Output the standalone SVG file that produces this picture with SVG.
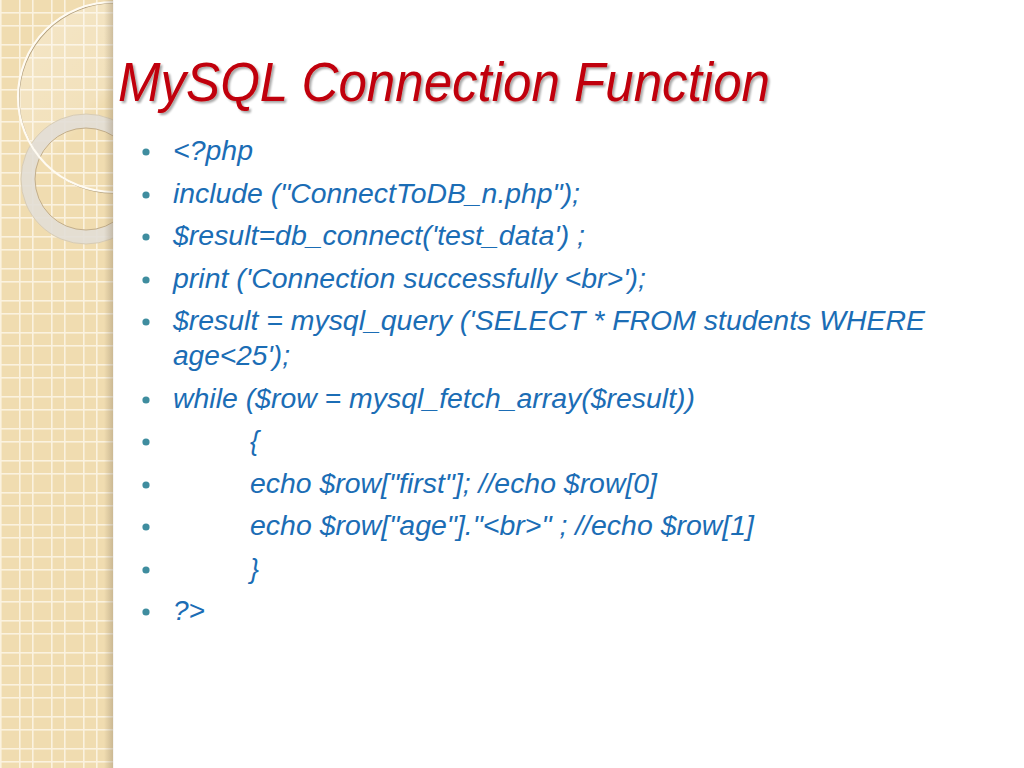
<svg xmlns="http://www.w3.org/2000/svg" width="1024" height="768" viewBox="0 0 1024 768">
  <defs>
    <pattern id="grid" x="0" y="0" width="32" height="32" patternUnits="userSpaceOnUse">
      <rect width="32" height="32" fill="#f0dcb0"/>
      <rect x="0" y="0" width="1.6" height="32" fill="#fbf2df"/>
      <rect x="19" y="0" width="1.6" height="32" fill="#fbf2df"/>
      <rect x="0" y="12" width="32" height="1.6" fill="#fbf2df"/>
      <rect x="0" y="25" width="32" height="1.6" fill="#fbf2df"/>
    </pattern>
    <linearGradient id="shadow" x1="0" y1="0" x2="1" y2="0">
      <stop offset="0" stop-color="#8a7a60" stop-opacity="0"/>
      <stop offset="0.55" stop-color="#8a7a60" stop-opacity="0.35"/>
      <stop offset="0.6" stop-color="#ffffff" stop-opacity="0.6"/>
      <stop offset="1" stop-color="#ffffff" stop-opacity="0"/>
    </linearGradient>
    <linearGradient id="glow" x1="0" y1="0" x2="1" y2="1">
      <stop offset="0" stop-color="#ffffff" stop-opacity="0.3"/>
      <stop offset="0.45" stop-color="#ffffff" stop-opacity="0.15"/>
      <stop offset="0.5" stop-color="#ffffff" stop-opacity="0"/>
    </linearGradient>
    <clipPath id="stripClip">
      <rect x="0" y="0" width="113" height="768"/>
    </clipPath>
    <filter id="tshadow" x="-5%" y="-20%" width="110%" height="140%">
      <feGaussianBlur in="SourceAlpha" stdDeviation="1.2"/>
      <feOffset dx="2" dy="2" result="b"/>
      <feComponentTransfer><feFuncA type="linear" slope="0.35"/></feComponentTransfer>
      <feMerge><feMergeNode/><feMergeNode in="SourceGraphic"/></feMerge>
    </filter>
  </defs>
  <style>
    .body { font-family: "Liberation Sans", Arial, sans-serif; font-style: italic; font-size: 27px; fill: #1b6db5; }
    .title { font-family: "Liberation Sans", Arial, sans-serif; font-style: italic; font-size: 55px; fill: #c00008; }
    .dot { fill: #3f8d9f; }
  </style>

  <rect width="1024" height="768" fill="#ffffff"/>

  <g id="strip">
    <rect x="0" y="0" width="113" height="768" fill="url(#grid)"/>
    <g clip-path="url(#stripClip)">
      <circle cx="113" cy="97" r="95" fill="url(#glow)"/>
      <circle cx="86" cy="179" r="58" fill="none" stroke="#e2ded6" stroke-width="14" stroke-opacity="0.9"/>
      <circle cx="86" cy="179" r="51" fill="none" stroke="#c2ae8c" stroke-width="1"/>
      <circle cx="86" cy="179" r="65" fill="none" stroke="#d8ccb4" stroke-width="1"/>
      <circle cx="114" cy="98" r="95" fill="none" stroke="#b3a07e" stroke-width="1.2"/>
      <circle cx="113" cy="97" r="95" fill="none" stroke="#fffbf2" stroke-width="2.2"/>
    </g>
    <rect x="104" y="0" width="16" height="768" fill="url(#shadow)"/>
  </g>

  <g id="title">
    <text class="title" x="118" y="101" textLength="652" lengthAdjust="spacingAndGlyphs" filter="url(#tshadow)">MySQL Connection Function</text>
  </g>

  <g id="bullets">
    <circle class="dot" cx="146" cy="152" r="3.6"/>
    <circle class="dot" cx="146" cy="195" r="3.6"/>
    <circle class="dot" cx="146" cy="237" r="3.6"/>
    <circle class="dot" cx="146" cy="280" r="3.6"/>
    <circle class="dot" cx="146" cy="322" r="3.6"/>
    <circle class="dot" cx="146" cy="400" r="3.6"/>
    <circle class="dot" cx="146" cy="442" r="3.6"/>
    <circle class="dot" cx="146" cy="485" r="3.6"/>
    <circle class="dot" cx="146" cy="527" r="3.6"/>
    <circle class="dot" cx="146" cy="570" r="3.6"/>
    <circle class="dot" cx="146" cy="612" r="3.6"/>
  </g>

  <g id="code">
    <text class="body" x="173" y="160" textLength="80" lengthAdjust="spacingAndGlyphs">&lt;?php</text>
    <text class="body" x="173" y="203" textLength="407" lengthAdjust="spacingAndGlyphs">include ("ConnectToDB_n.php");</text>
    <text class="body" x="173" y="245" textLength="412" lengthAdjust="spacingAndGlyphs">$result=db_connect('test_data') ;</text>
    <text class="body" x="173" y="288" textLength="473" lengthAdjust="spacingAndGlyphs">print ('Connection successfully &lt;br&gt;');</text>
    <text class="body" x="173" y="330" textLength="752" lengthAdjust="spacingAndGlyphs">$result = mysql_query ('SELECT * FROM students WHERE</text>
    <text class="body" x="173" y="365" textLength="117" lengthAdjust="spacingAndGlyphs">age&lt;25');</text>
    <text class="body" x="173" y="408" textLength="522" lengthAdjust="spacingAndGlyphs">while ($row = mysql_fetch_array($result))</text>
    <text class="body" x="250" y="450">{</text>
    <text class="body" x="250" y="493" textLength="407" lengthAdjust="spacingAndGlyphs">echo $row["first"]; //echo $row[0]</text>
    <text class="body" x="250" y="535" textLength="504" lengthAdjust="spacingAndGlyphs">echo $row["age"]."&lt;br&gt;" ; //echo $row[1]</text>
    <text class="body" x="250" y="578">}</text>
    <text class="body" x="173" y="620" textLength="32" lengthAdjust="spacingAndGlyphs">?&gt;</text>
  </g>
</svg>
